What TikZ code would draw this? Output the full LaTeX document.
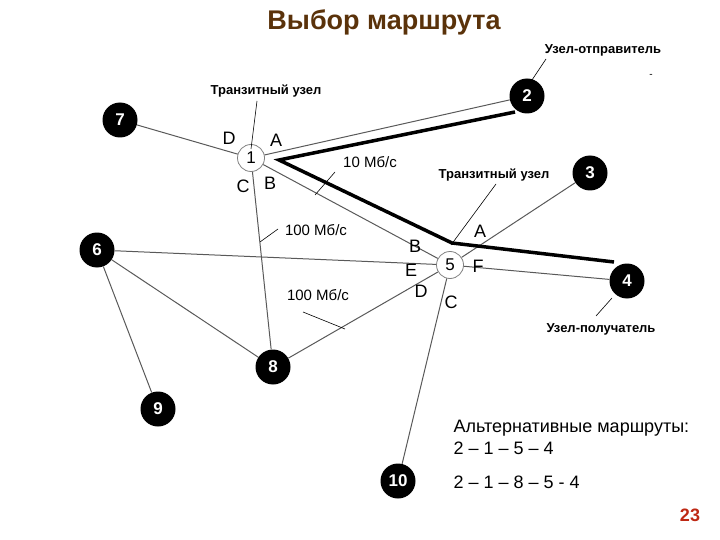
\documentclass[tikz,border=0pt]{standalone}
\usepackage{fontspec}
\setmainfont{Liberation Sans}
\newfontfamily\portfont{DejaVu Sans}
\begin{document}
\begin{tikzpicture}[x=1pt,y=-1pt,
  blk/.style={circle,fill=black,text=white,font=\bfseries\fontsize{17}{20}\selectfont,inner sep=0pt,minimum size=35pt},
  wht/.style={circle,draw=gray,line width=0.8pt,fill=white,font=\fontsize{17}{20}\selectfont,inner sep=0pt,minimum size=27pt},
  edge/.style={draw=gray!70!black,line width=1pt},
  thick/.style={line width=3.5pt,line join=miter},
  lead/.style={line width=0.6pt},
  port/.style={font=\fontsize{18}{20}\selectfont},
  lbl/.style={font=\bfseries\fontsize{13}{15}\selectfont},
  spd/.style={font=\fontsize{15}{17}\selectfont}]
\useasboundingbox (0,0) rectangle (720,540);
\node[font=\bfseries\fontsize{27}{30}\selectfont,text={rgb,255:red,90;green,50;blue,10}] (title) at (384,22) {Выбор маршрута};
\node[blk] (n7) at (120,120) {7};
\node[wht] (n1) at (251,158) {1};
\node[blk] (n2) at (527,96) {2};
\node[blk] (n3) at (590,173) {3};
\node[wht] (n5) at (450,265) {5};
\node[blk] (n4) at (627,281) {4};
\node[blk] (n6) at (97,250) {6};
\node[blk] (n8) at (273,367) {8};
\node[blk] (n9) at (158,409) {9};
\node[blk] (n10) at (398,481) {10};
\foreach \a/\b in {n7/n1,n1/n2,n1/n5,n1/n8,n6/n5,n6/n8,n6/n9,n8/n5,n5/n3,n5/n4,n5/n10}
  \draw[edge] (\a) -- (\b);
\coordinate (p0) at (279,160);
\coordinate (p2) at (515,112);
\coordinate (p5) at (452,243);
\coordinate (p4) at (614,262);
\draw[thick] (p2) -- (p0) -- (p5) -- (p4);
\node[port] (d1) at (229,138) {D};
\node[port] (a1) at (276,140) {A};
\node[port] (c1) at (243,186) {C};
\node[port] (b1) at (270,183) {B};
\node[port] (b5) at (415,246) {B};
\node[port] (e5) at (411,270) {E};
\node[port] (a5) at (480,231) {A};
\node[port] (f5) at (478,266) {F};
\node[port] (d5) at (421,291) {D};
\node[port] (c5) at (451,302) {C};
\node[lbl] (t1) at (266,91) {Транзитный узел};
\coordinate (t1e) at (251,149);
\draw[lead] (257,101) -- (t1e);
\node[lbl] (t2) at (494,175) {Транзитный узел};
\coordinate (t2e) at (451,245);
\draw[lead] (496,184) -- (t2e);
\node[lbl] (snd) at (603,50) {Узел-отправитель};
\coordinate (snde) at (530,83);
\draw[lead] (546,59) -- (snde);
\node (dash) at (651,76) {-};
\node[lbl] (rcv) at (601,329) {Узел-получатель};
\coordinate (rcve) at (612,298);
\draw[lead] (596,316) -- (rcve);
\node[spd] (s10) at (370,162) {10 Мб/с};
\coordinate (s10e) at (315,195);
\draw[lead] (335,172) -- (s10e);
\node[spd] (s100a) at (316,230) {100 Мб/с};
\coordinate (s100ae) at (260,242);
\draw[lead] (278,229) -- (s100ae);
\node[spd] (s100b) at (318,295) {100 Мб/с};
\coordinate (s100be) at (345,329);
\draw[lead] (303,312) -- (s100be);
\node[align=left,anchor=north west,font=\fontsize{18}{22}\selectfont] (alt) at (450,417) {Альтернативные маршруты:\\2 – 1 – 5 – 4};
\node[anchor=west,font=\fontsize{18}{22}\selectfont] (alt2) at (450,482) {2 – 1 – 8 – 5 - 4};
\node[font=\bfseries\fontsize{18}{20}\selectfont,text={rgb,255:red,190;green,40;blue,20}] (pg) at (690,515) {23};
\end{tikzpicture}
\end{document}
